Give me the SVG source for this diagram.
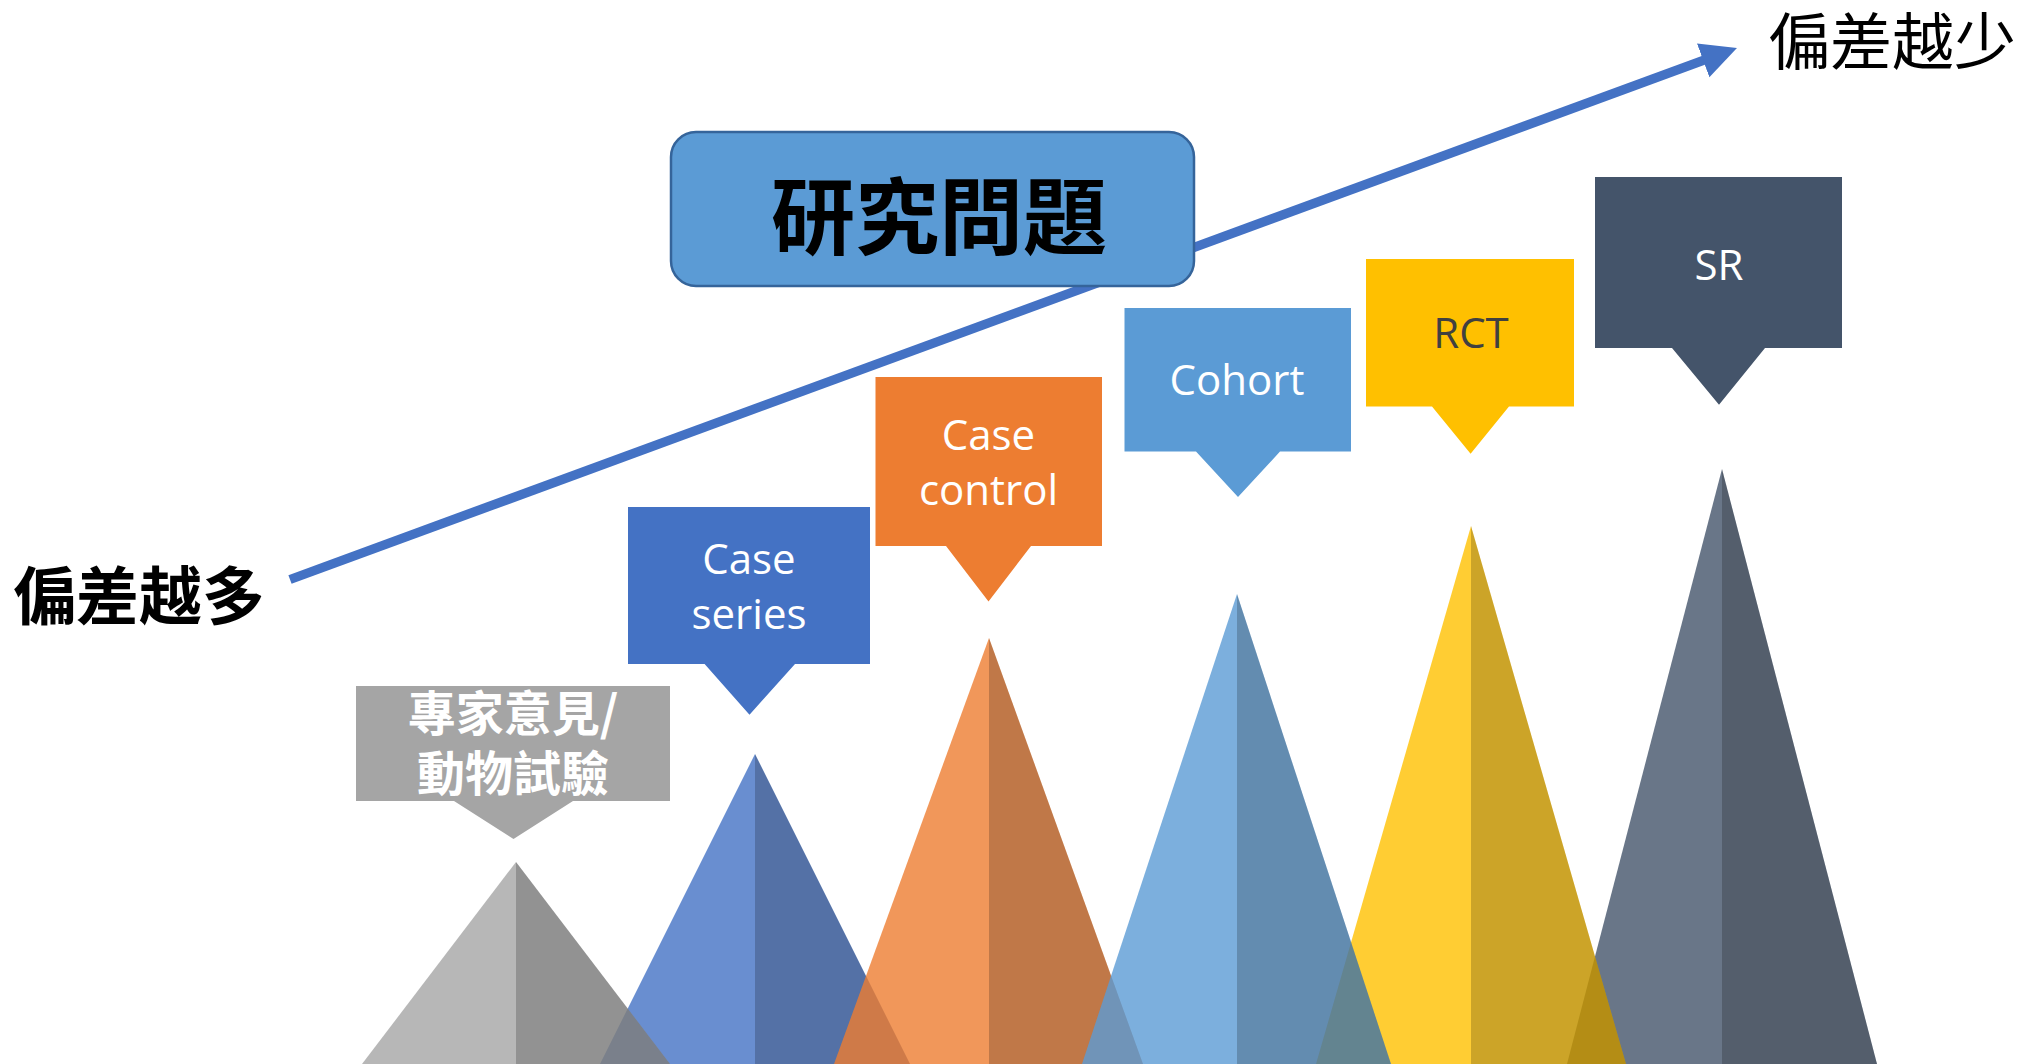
<svg xmlns="http://www.w3.org/2000/svg" width="2029" height="1064" viewBox="0 0 2029 1064">
  <defs>
    <marker id="arrowhead" markerUnits="userSpaceOnUse" markerWidth="40" markerHeight="40" refX="3" refY="18" orient="auto">
      <path d="M0,0 L36,18 L0,36 Z" fill="#4472c4"/>
    </marker>
    <style>
      .tri { fill-opacity: 0.8; }
      .shade { fill: #000000; fill-opacity: 0.2; }
      .cjk { font-family: "Noto Sans CJK TC", "Noto Sans CJK SC", sans-serif; }
      .lbl { font-family: "Open Sans", "Noto Sans", sans-serif; font-size: 42px; text-anchor: middle; fill: #ffffff; }
      .callout { stroke: none; }
    </style>
  </defs>
  <rect x="0" y="0" width="2029" height="1064" fill="#ffffff"/>

  <!-- triangles (peaks) -->
  <g id="peaks">
    <g id="peak-sr">
      <polygon class="tri" points="1722,469 1877,1064 1567,1064" fill="#44546a"/>
      <polygon class="shade" points="1722,469 1877,1064 1722,1064"/>
    </g>
    <g id="peak-case-series">
      <polygon class="tri" points="755,754 910,1064 600,1064" fill="#4472c4"/>
      <polygon class="shade" points="755,754 910,1064 755,1064"/>
    </g>
    <g id="peak-expert">
      <polygon class="tri" points="516,862 670,1064 362,1064" fill="#a5a5a5"/>
      <polygon class="shade" points="516,862 670,1064 516,1064"/>
    </g>
    <g id="peak-case-control">
      <polygon class="tri" points="989,638 1143,1064 834,1064" fill="#ed7d31"/>
      <polygon class="shade" points="989,638 1143,1064 989,1064"/>
    </g>
    <g id="peak-rct">
      <polygon class="tri" points="1471,526 1626,1064 1316,1064" fill="#ffc000"/>
      <polygon class="shade" points="1471,526 1626,1064 1471,1064"/>
    </g>
    <g id="peak-cohort">
      <polygon class="tri" points="1237,594 1391,1064 1082,1064" fill="#5b9bd5"/>
      <polygon class="shade" points="1237,594 1391,1064 1237,1064"/>
    </g>
  </g>

  <!-- connector: bias arrow -->
  <g id="connectors">
    <line x1="290" y1="579.5" x2="1706" y2="59.4" stroke="#4472c4" stroke-width="9.3" marker-end="url(#arrowhead)"/>
  </g>

  <g id="label-more-bias">
    <text class="cjk" x="13" y="619" font-size="63" font-weight="bold" fill="#000000">偏差越多</text>
  </g>
  <g id="label-less-bias">
    <text class="cjk" x="1768" y="65" font-size="62" fill="#000000">偏差越少</text>
  </g>

  <g id="research-question">
    <rect x="671" y="132" width="523" height="154" rx="25" ry="25" fill="#5b9bd5" stroke="#35649a" stroke-width="2.5"/>
    <text class="cjk" x="939" y="248" font-size="84" font-weight="bold" text-anchor="middle" fill="#000000">研究問題</text>
  </g>

  <g id="callout-expert">
    <path class="callout" d="M356,686 H670 V801 H573 L513.5,839 L454,801 H356 Z" fill="#a5a5a5"/>
    <text class="cjk" x="513" y="731" font-size="48" font-weight="bold" text-anchor="middle" fill="#ffffff">專家意見/</text>
    <text class="cjk" x="513" y="791" font-size="48" font-weight="bold" text-anchor="middle" fill="#ffffff">動物試驗</text>
  </g>

  <g id="callout-case-series">
    <path class="callout" d="M628,507 H870 V664 H795 L749.5,714.7 L704.6,664 H628 Z" fill="#4472c4"/>
    <text class="lbl" x="749" y="574">Case</text>
    <text class="lbl" x="749" y="629">series</text>
  </g>

  <g id="callout-case-control">
    <path class="callout" d="M875.5,377 H1102 V546 H1031 L988.5,601.6 L946,546 H875.5 Z" fill="#ed7d31"/>
    <text class="lbl" x="988.5" y="450">Case</text>
    <text class="lbl" x="988.5" y="505">control</text>
  </g>

  <g id="callout-cohort">
    <path class="callout" d="M1124.5,308 H1351 V451.6 H1280 L1238,497 L1196,451.6 H1124.5 Z" fill="#5b9bd5"/>
    <text class="lbl" x="1237" y="395">Cohort</text>
  </g>

  <g id="callout-rct">
    <path class="callout" d="M1366,259 H1574 V406.5 H1509 L1470.6,453.7 L1432,406.5 H1366 Z" fill="#ffc000"/>
    <text class="lbl" x="1471" y="348" style="fill:#404040">RCT</text>
  </g>

  <g id="callout-sr">
    <path class="callout" d="M1595,177 H1842 V348 H1765 L1719,404.7 L1672,348 H1595 Z" fill="#44546a"/>
    <text class="lbl" x="1719" y="280">SR</text>
  </g>
</svg>
